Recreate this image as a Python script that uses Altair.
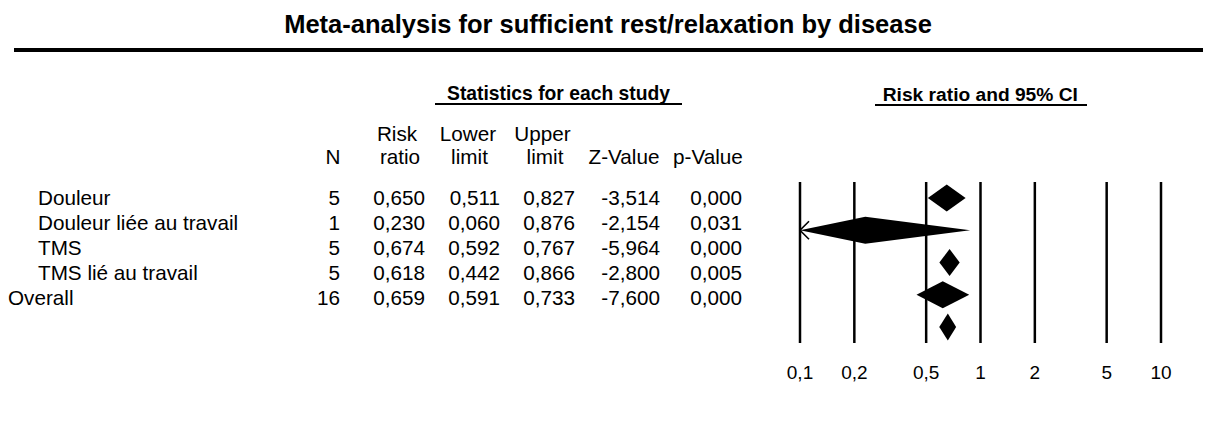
import altair as alt
import pandas as pd

# ---------------- data ----------------
labels = ["Douleur", "Douleur liée au travail", "TMS", "TMS lié au travail", "Overall"]
n_studies = [5, 1, 5, 5, 16]
risk_ratio = [0.650, 0.230, 0.674, 0.618, 0.659]
lower_limit = [0.511, 0.060, 0.592, 0.442, 0.591]
upper_limit = [0.827, 0.876, 0.767, 0.866, 0.733]
z_value = [-3.514, -2.154, -5.964, -2.800, -7.600]
p_value = [0.000, 0.031, 0.000, 0.005, 0.000]

tick_values = [0.1, 0.2, 0.5, 1, 2, 5, 10]
tick_labels = ["0,1", "0,2", "0,5", "1", "2", "5", "10"]

title_text = "Meta-analysis for sufficient rest/relaxation by disease"
section_stats = "Statistics for each study"
section_forest = "Risk ratio and 95% CI"

# ---------------- styling ----------------
FONT = "Liberation Sans"
FS = 20.7
X_MIN, X_MAX = 0.1, 10
DIAMOND_HALF = 0.42  # half-height of a diamond, in row units


def fmt3(v):
    return f"{v:.3f}".replace(".", ",")


rows = list(range(len(labels)))
table = pd.DataFrame({
    "row": rows,
    "label": labels,
    "n": [str(v) for v in n_studies],
    "rr": [fmt3(v) for v in risk_ratio],
    "ll": [fmt3(v) for v in lower_limit],
    "ul": [fmt3(v) for v in upper_limit],
    "z": [fmt3(v) for v in z_value],
    "p": [fmt3(v) for v in p_value],
})

# diamond polygons (built from the data)
poly = []
for i in rows:
    lo = max(lower_limit[i], X_MIN)
    hi = min(upper_limit[i], X_MAX)
    poly.append({"study": labels[i], "x": lo, "y": i, "y2": i})
    poly.append({"study": labels[i], "x": risk_ratio[i], "y": i - DIAMOND_HALF, "y2": i + DIAMOND_HALF})
    poly.append({"study": labels[i], "x": hi, "y": i, "y2": i})
poly = pd.DataFrame(poly)

arrows = pd.DataFrame({
    "row": [i for i in rows if lower_limit[i] < X_MIN],
    "x": [X_MIN for i in rows if lower_limit[i] < X_MIN],
})

ticks = pd.DataFrame({"tick": tick_values, "label": tick_labels})

one = pd.DataFrame({"k": [0]})

ty = alt.Scale(domain=[0, 4], range=[197, 297.4], zero=False, nice=False)
fy = alt.Scale(domain=[0, 4], range=[190, 319], zero=False, nice=False)
fx = alt.Scale(type="log", domain=[X_MIN, X_MAX], range=[792, 1153], nice=False)


def const_text(txt, x, y, size, bold=False, align="center"):
    return alt.Chart(one).mark_text(
        text=txt, font=FONT, fontSize=size, fontWeight="bold" if bold else "normal",
        align=align, baseline="alphabetic", color="black"
    ).encode(x=alt.value(x), y=alt.value(y))


def hrule(x1, x2, y, w):
    return alt.Chart(one).mark_rule(color="black", strokeWidth=w).encode(
        x=alt.value(x1), x2=alt.value(x2), y=alt.value(y))


layers = []
# title and thick line
layers.append(const_text(title_text, 600, 25.3, 25.5, bold=True))
layers.append(hrule(6, 1195, 42, 4))

# section headers
layers.append(const_text(section_stats, 550.5, 91.5, 19.3, bold=True))
layers.append(hrule(427, 674, 96, 1.8))
layers.append(const_text(section_forest, 972.3, 92.5, 19.2, bold=True))
layers.append(hrule(867, 1079, 97, 1.8))

# column headers
for txt, x, y in [
    ("N", 325, 156),
    ("Risk", 389, 133), ("ratio", 392, 156),
    ("Lower", 460, 133), ("limit", 461.5, 156),
    ("Upper", 534.5, 133), ("limit", 537, 156),
    ("Z-Value", 616, 156), ("p-Value", 700, 156),
]:
    layers.append(const_text(txt, x, y, FS))

# row labels
base = alt.Chart(table)
layers.append(base.transform_filter("datum.row < 4").mark_text(
    font=FONT, fontSize=FS, align="left", baseline="alphabetic", color="black"
).encode(x=alt.value(30), y=alt.Y("row:Q", scale=ty, axis=None), text="label:N"))
layers.append(base.transform_filter("datum.row == 4").mark_text(
    font=FONT, fontSize=FS, align="left", baseline="alphabetic", color="black"
).encode(x=alt.value(0), y=alt.Y("row:Q", scale=ty, axis=None), text="label:N"))

# numeric columns (right-aligned)
for field, xr in [("n", 332), ("rr", 417), ("ll", 492), ("ul", 567), ("z", 652), ("p", 734)]:
    layers.append(base.mark_text(
        font=FONT, fontSize=FS, align="right", baseline="alphabetic", color="black"
    ).encode(x=alt.value(xr), y=alt.Y("row:Q", scale=ty, axis=None), text=f"{field}:N"))

# forest plot: vertical reference lines
layers.append(alt.Chart(ticks).mark_rule(color="black", strokeWidth=2.5).encode(
    x=alt.X("tick:Q", scale=fx, axis=None), y=alt.value(174), y2=alt.value(335)))

# tick labels
layers.append(alt.Chart(ticks).mark_text(
    font=FONT, fontSize=19, align="center", baseline="alphabetic", color="black"
).encode(x=alt.X("tick:Q", scale=fx, axis=None), y=alt.value(371.4), text="label:N"))

# diamonds
layers.append(alt.Chart(poly).mark_area(color="black", opacity=1).encode(
    x=alt.X("x:Q", scale=fx, axis=None),
    y=alt.Y("y:Q", scale=fy, axis=None),
    y2="y2:Q",
    detail="study:N",
))

# clipping arrows
layers.append(alt.Chart(arrows).mark_point(
    shape="M1,-1L0,0L1,1", size=324, filled=False, stroke="black", strokeWidth=1.6, opacity=1
).encode(x=alt.X("x:Q", scale=fx, axis=None), y=alt.Y("row:Q", scale=fy, axis=None)))

chart = alt.layer(*layers).resolve_scale(x="independent", y="independent").properties(
    width=1195, height=429, padding=0, autosize="none"
).configure_view(stroke=None)

chart.save("out.html", embed_options={"renderer": "svg", "actions": False})
